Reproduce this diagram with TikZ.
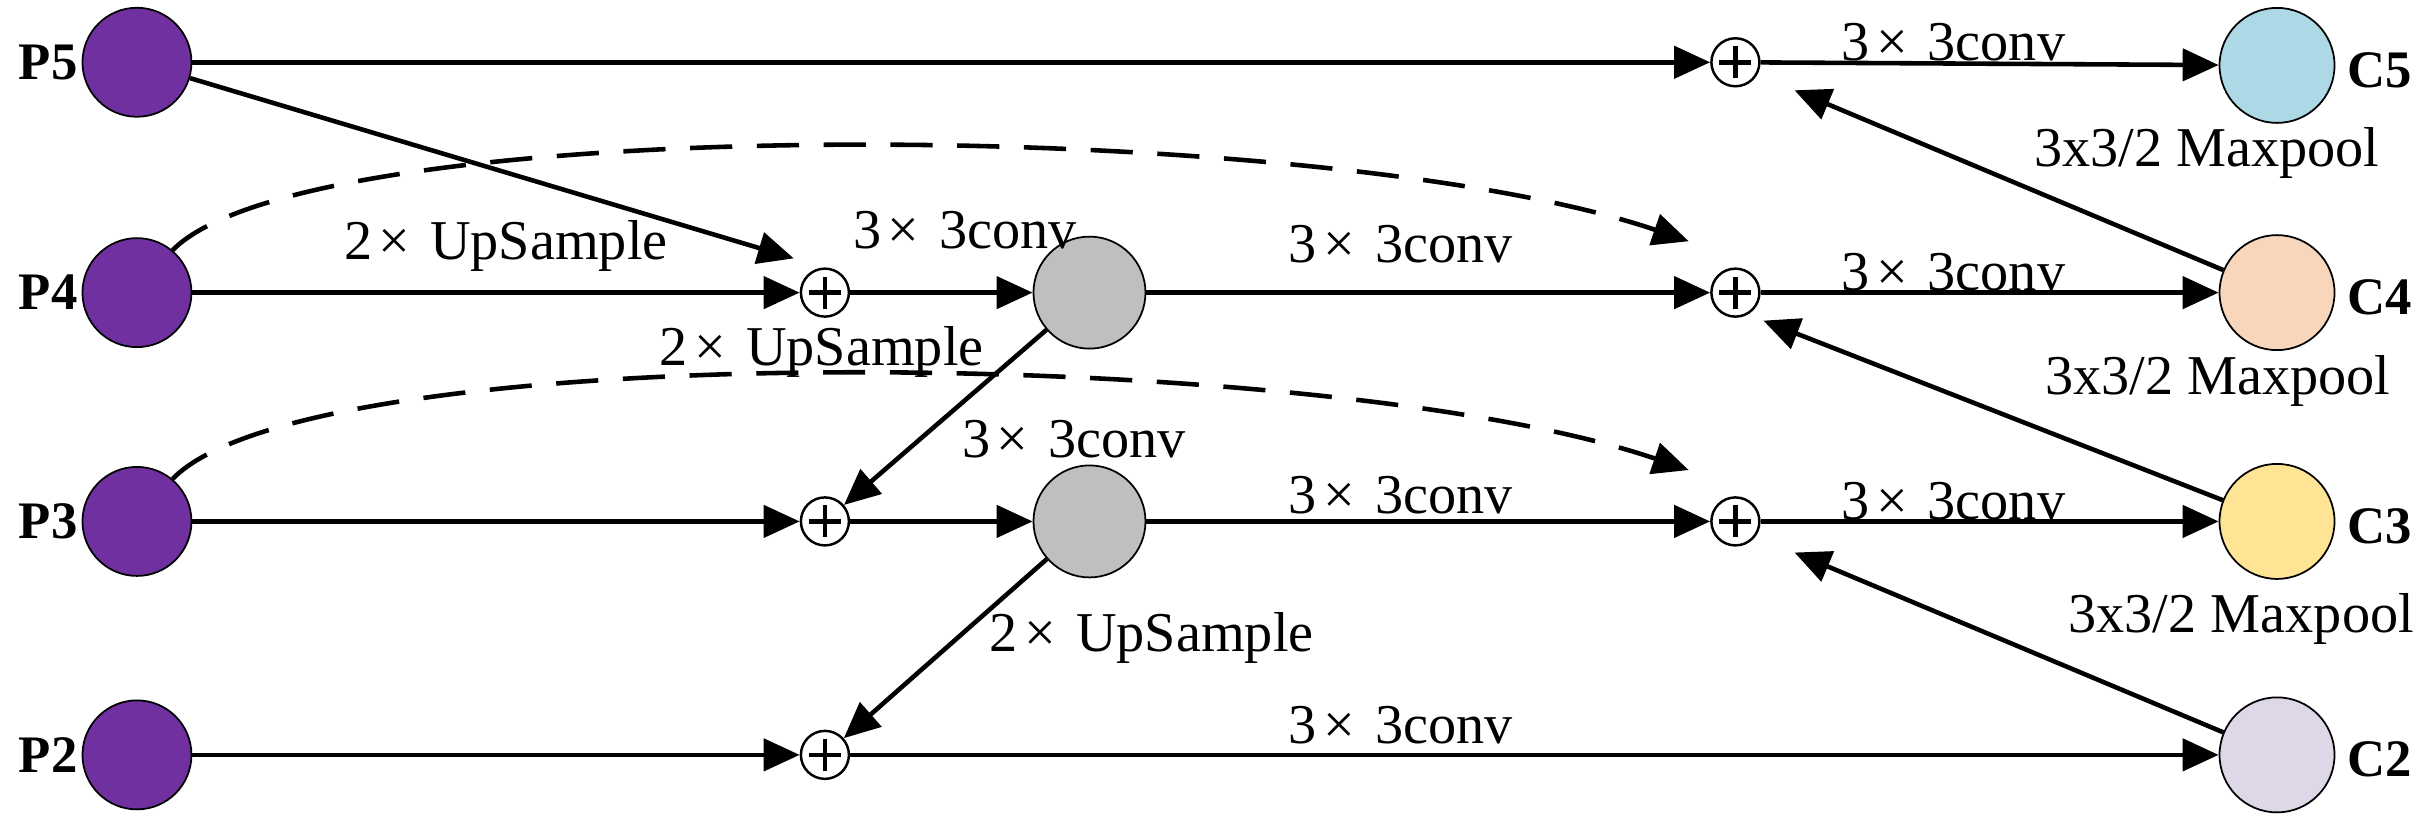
\documentclass[tikz,border=0pt]{standalone}
\usepackage{fontspec}
\setmainfont{Liberation Serif}
\usetikzlibrary{arrows.meta,calc}
\newcommand{\tms}{\hspace{0.12em}\texttimes\hspace{0.35em}}
\begin{document}
\begin{tikzpicture}[x=0.015564cm,y=-0.015564cm,
  ln/.style={line width=1.3pt,-{Triangle[length=0.36cm,width=0.32cm]}},
  dsh/.style={ln,dashed,dash pattern=on 12pt off 7pt},
  pnode/.style={circle,draw,line width=0.5pt,fill=pcol,minimum size=1.09cm,inner sep=0},
  gnode/.style={circle,draw,line width=0.5pt,fill=gray!50,minimum size=1.12cm,inner sep=0},
  cnode/.style={circle,draw,line width=0.5pt,minimum size=1.15cm,inner sep=0},
  plus/.style={circle,draw,line width=0.7pt,minimum size=0.48cm,inner sep=0,fill=white,
    path picture={\draw[line width=1.3pt] ($(path picture bounding box.center)+(-0.16cm,0)$)--($(path picture bounding box.center)+(0.16cm,0)$)
      ($(path picture bounding box.center)+(0,-0.16cm)$)--($(path picture bounding box.center)+(0,0.16cm)$);}},
  lab/.style={font=\fontsize{16}{18}\selectfont},
  nm/.style={font=\fontsize{15}{17}\selectfont\bfseries}]
\definecolor{pcol}{RGB}{112,48,160}
\definecolor{c5}{RGB}{173,216,230}
\definecolor{c4}{RGB}{248,214,188}
\definecolor{c3}{RGB}{255,228,150}
\definecolor{c2}{RGB}{221,215,232}
\useasboundingbox (0,0) rectangle (1560,526);
% P nodes
\node[pnode] (P5) at (88,40) {};
\node[pnode] (P4) at (88,188) {};
\node[pnode] (P3) at (88,335) {};
\node[pnode] (P2) at (88,485) {};
\node[nm,anchor=east,inner sep=1pt] (lP5) at (P5.west) {P5};
\node[nm,anchor=east,inner sep=1pt] (lP4) at (P4.west) {P4};
\node[nm,anchor=east,inner sep=1pt] (lP3) at (P3.west) {P3};
\node[nm,anchor=east,inner sep=1pt] (lP2) at (P2.west) {P2};
% plus nodes
\node[plus] (L4) at (530,188) {};
\node[plus] (L3) at (530,335) {};
\node[plus] (L2) at (530,485) {};
\node[plus] (R5) at (1115,40) {};
\node[plus] (R4) at (1115,188) {};
\node[plus] (R3) at (1115,335) {};
% gray
\node[gnode] (G4) at (700,188) {};
\node[gnode] (G3) at (700,335) {};
% C nodes
\node[cnode,fill=c5] (C5) at (1463,42) {};
\node[cnode,fill=c4] (C4) at (1463,188) {};
\node[cnode,fill=c3] (C3) at (1463,335) {};
\node[cnode,fill=c2] (C2) at (1463,485) {};
\node[nm,anchor=west,inner sep=2pt] (lC5) at ($(C5.east)+(3,3)$) {C5};
\node[nm,anchor=west,inner sep=2pt] (lC4) at ($(C4.east)+(3,3)$) {C4};
\node[nm,anchor=west,inner sep=2pt] (lC3) at ($(C3.east)+(3,3)$) {C3};
\node[nm,anchor=west,inner sep=2pt] (lC2) at ($(C2.east)+(3,3)$) {C2};
% coordinates for dashed ends
\coordinate (d4) at (1085,155);
\coordinate (d3) at (1085,302);
% edges
\draw[ln] (P5) -- (R5);
\draw[ln] (P5) -- ($(L4)+(-20,-22)$) coordinate (e54);
\draw[ln] (P4) -- (L4);
\draw[ln] (L4) -- (G4);
\draw[ln] (G4) -- (R4);
\draw[ln] (R4) -- (C4);
\draw[ln] (R5) -- (C5);
\draw[ln] (G4) -- (L3);
\draw[ln] (P3) -- (L3);
\draw[ln] (L3) -- (G3);
\draw[ln] (G3) -- (R3);
\draw[ln] (R3) -- (C3);
\draw[ln] (G3) -- (L2);
\draw[ln] (P2) -- (L2);
\draw[ln] (L2) -- (C2);
\draw[ln] (C4) -- ($(R5)+(38,18)$) coordinate (e45);
\draw[ln] (C3) -- ($(R4)+(18,18)$) coordinate (e34);
\draw[ln] (C2) -- ($(R3)+(38,20)$) coordinate (e23);
\draw[dsh] (P4.50) .. controls (200,70) and (850,75) .. (d4);
\draw[dsh] (P3.50) .. controls (200,215) and (850,222) .. (d3);
% labels
\node[lab] (t1) at (325,158) {2\tms UpSample};
\node[lab] (t2) at (620,148) {3\tms 3conv};
\node[lab] (t3) at (900,157) {3\tms 3conv};
\node[lab] (t4) at (1255,175) {3\tms 3conv};
\node[lab] (t5) at (1255,27) {3\tms 3conv};
\node[lab] (t6) at (528,226) {2\tms UpSample};
\node[lab] (t7) at (690,282) {3\tms 3conv};
\node[lab] (t8) at (900,318) {3\tms 3conv};
\node[lab] (t9) at (1255,322) {3\tms 3conv};
\node[lab] (t10) at (740,410) {2\tms UpSample};
\node[lab] (t11) at (900,466) {3\tms 3conv};
\node[lab] (m1) at (1418,98) {3x3/2 Maxpool};
\node[lab] (m2) at (1425,245) {3x3/2 Maxpool};
\node[lab] (m3) at (1440,398) {3x3/2 Maxpool};
\end{tikzpicture}
\end{document}
